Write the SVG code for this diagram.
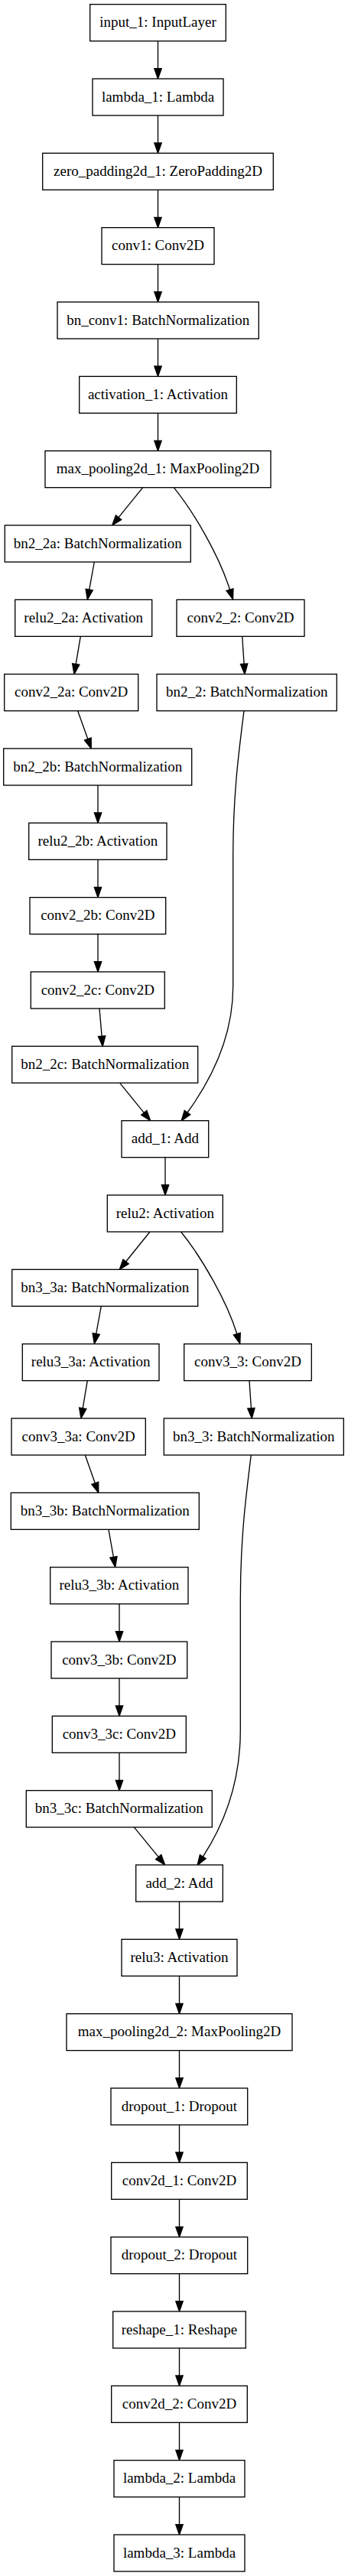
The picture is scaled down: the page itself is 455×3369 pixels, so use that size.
<svg xmlns="http://www.w3.org/2000/svg" width="455" height="3369" viewBox="0 0 455 3369">
<style>
.n rect{fill:#fff;stroke:#000;stroke-width:1.33}
.n text{font-family:"Liberation Serif","Times New Roman",serif;font-size:19px;text-anchor:middle;fill:#000}
.e path{fill:none;stroke:#000;stroke-width:1.33}
</style>
<defs>
<marker id="a" markerUnits="userSpaceOnUse" markerWidth="16" markerHeight="12" refX="1" refY="6" orient="auto" viewBox="0 0 16 12" overflow="visible">
<path d="M1,1.33 L14.33,6 L1,10.67 Z" fill="#000" stroke="#000" stroke-width="1.33"/>
</marker>
</defs>
<rect width="455" height="3369" fill="#fff"/>
<g id="edges" class="e">
<path d="M206.5,53.67 V89.67" marker-end="url(#a)"/>
<path d="M206.5,151 V187" marker-end="url(#a)"/>
<path d="M206.5,248.33 V284.33" marker-end="url(#a)"/>
<path d="M206.5,345.67 V381.67" marker-end="url(#a)"/>
<path d="M206.5,443 V479" marker-end="url(#a)"/>
<path d="M206.5,540.33 V576.33" marker-end="url(#a)"/>
<path d="M186.7,637.67 L155.1,676.7" marker-end="url(#a)"/>
<path d="M227.3,637.67 C255,672 287,728 300.5,771.2" marker-end="url(#a)"/>
<path d="M123.3,735 L116.7,771.2" marker-end="url(#a)"/>
<path d="M105.3,832.33 L99.2,868.6" marker-end="url(#a)"/>
<path d="M316.7,832.33 L319.1,868.4" marker-end="url(#a)"/>
<path d="M101.7,929.67 L114.8,966.5" marker-end="url(#a)"/>
<path d="M128,1027 V1063" marker-end="url(#a)"/>
<path d="M128,1124.33 V1160.33" marker-end="url(#a)"/>
<path d="M128,1221.67 V1257.67" marker-end="url(#a)"/>
<path d="M130,1319 L133.1,1355.1" marker-end="url(#a)"/>
<path d="M156.7,1416.33 L188.3,1455.3" marker-end="url(#a)"/>
<path d="M319,929.67 C312,985 304.7,1040 304.7,1120 L304.7,1290 C304.7,1345 285,1400 245,1455" marker-end="url(#a)"/>
<path d="M216,1513.67 V1549.67" marker-end="url(#a)"/>
<path d="M196,1611 L164.6,1650" marker-end="url(#a)"/>
<path d="M236.6,1611 C264.3,1645.3 296.3,1701.3 309.8,1744.5" marker-end="url(#a)"/>
<path d="M132.3,1708.33 L125.7,1744.5" marker-end="url(#a)"/>
<path d="M114.3,1805.67 L108.2,1841.8" marker-end="url(#a)"/>
<path d="M326,1805.67 L328.4,1841.7" marker-end="url(#a)"/>
<path d="M111.3,1903 L124.3,1939.7" marker-end="url(#a)"/>
<path d="M142,2000.33 L148.4,2036.5" marker-end="url(#a)"/>
<path d="M156,2097.67 V2133.67" marker-end="url(#a)"/>
<path d="M156,2195 V2231" marker-end="url(#a)"/>
<path d="M156,2292.33 V2328.33" marker-end="url(#a)"/>
<path d="M175.3,2389.67 L207.2,2428.6" marker-end="url(#a)"/>
<path d="M328.3,1903 C321.3,1958.3 314.3,2013.3 314.3,2093.3 L314.3,2263 C314.3,2320 300,2375 265.3,2428.3" marker-end="url(#a)"/>
<path d="M234.5,2487 V2523" marker-end="url(#a)"/>
<path d="M234.5,2584.33 V2620.33" marker-end="url(#a)"/>
<path d="M234.5,2681.67 V2717.67" marker-end="url(#a)"/>
<path d="M234.5,2779 V2815" marker-end="url(#a)"/>
<path d="M234.5,2876.33 V2912.33" marker-end="url(#a)"/>
<path d="M234.5,2973.67 V3009.67" marker-end="url(#a)"/>
<path d="M234.5,3071 V3107" marker-end="url(#a)"/>
<path d="M234.5,3168.33 V3204.33" marker-end="url(#a)"/>
<path d="M234.5,3265.67 V3301.67" marker-end="url(#a)"/>
</g>
<g id="input_1" class="n"><rect x="117.7" y="5.67" width="177.6" height="48"/><text x="206.5" y="35.3">input_1: InputLayer</text></g>
<g id="lambda_1" class="n"><rect x="121" y="103" width="171" height="48"/><text x="206.5" y="132.6">lambda_1: Lambda</text></g>
<g id="zero_padding2d_1" class="n"><rect x="55.7" y="200.33" width="301.6" height="48"/><text x="206.5" y="229.9">zero_padding2d_1: ZeroPadding2D</text></g>
<g id="conv1" class="n"><rect x="133" y="297.67" width="147" height="48"/><text x="206.5" y="327.3">conv1: Conv2D</text></g>
<g id="bn_conv1" class="n"><rect x="75" y="395" width="263.3" height="48"/><text x="206.7" y="424.6">bn_conv1: BatchNormalization</text></g>
<g id="activation_1" class="n"><rect x="103.7" y="492.33" width="205.6" height="48"/><text x="206.5" y="521.9">activation_1: Activation</text></g>
<g id="max_pooling2d_1" class="n"><rect x="59" y="589.67" width="295" height="48"/><text x="206.5" y="619.3">max_pooling2d_1: MaxPooling2D</text></g>
<g id="bn2_2a" class="n"><rect x="6.3" y="687" width="243" height="48"/><text x="127.8" y="716.6">bn2_2a: BatchNormalization</text></g>
<g id="relu2_2a" class="n"><rect x="19.7" y="784.33" width="179" height="48"/><text x="109.2" y="813.9">relu2_2a: Activation</text></g>
<g id="conv2_2" class="n"><rect x="231" y="784.33" width="167" height="48"/><text x="314.5" y="813.9">conv2_2: Conv2D</text></g>
<g id="conv2_2a" class="n"><rect x="5.7" y="881.67" width="175" height="48"/><text x="93.2" y="911.3">conv2_2a: Conv2D</text></g>
<g id="bn2_2" class="n"><rect x="205" y="881.67" width="235.3" height="48"/><text x="322.7" y="911.3">bn2_2: BatchNormalization</text></g>
<g id="bn2_2b" class="n"><rect x="4.7" y="979" width="246" height="48"/><text x="127.7" y="1008.6">bn2_2b: BatchNormalization</text></g>
<g id="relu2_2b" class="n"><rect x="37.7" y="1076.33" width="180.3" height="48"/><text x="127.85" y="1105.9">relu2_2b: Activation</text></g>
<g id="conv2_2b" class="n"><rect x="39" y="1173.67" width="177.7" height="48"/><text x="127.85" y="1203.3">conv2_2b: Conv2D</text></g>
<g id="conv2_2c" class="n"><rect x="40.3" y="1271" width="175" height="48"/><text x="127.8" y="1300.6">conv2_2c: Conv2D</text></g>
<g id="bn2_2c" class="n"><rect x="15.7" y="1368.33" width="243" height="48"/><text x="137.2" y="1397.9">bn2_2c: BatchNormalization</text></g>
<g id="add_1" class="n"><rect x="159" y="1465.67" width="113.7" height="48"/><text x="215.85" y="1495.3">add_1: Add</text></g>
<g id="relu2" class="n"><rect x="140.3" y="1563" width="151" height="48"/><text x="215.8" y="1592.6">relu2: Activation</text></g>
<g id="bn3_3a" class="n"><rect x="15.7" y="1660.33" width="243" height="48"/><text x="137.2" y="1689.9">bn3_3a: BatchNormalization</text></g>
<g id="relu3_3a" class="n"><rect x="29.3" y="1757.67" width="178.7" height="48"/><text x="118.65" y="1787.3">relu3_3a: Activation</text></g>
<g id="conv3_3" class="n"><rect x="240.7" y="1757.67" width="166.6" height="48"/><text x="324" y="1787.3">conv3_3: Conv2D</text></g>
<g id="conv3_3a" class="n"><rect x="15" y="1855" width="175.3" height="48"/><text x="102.65" y="1884.6">conv3_3a: Conv2D</text></g>
<g id="bn3_3" class="n"><rect x="214.3" y="1855" width="235" height="48"/><text x="331.8" y="1884.6">bn3_3: BatchNormalization</text></g>
<g id="bn3_3b" class="n"><rect x="14.3" y="1952.33" width="246" height="48"/><text x="137.3" y="1981.9">bn3_3b: BatchNormalization</text></g>
<g id="relu3_3b" class="n"><rect x="65.7" y="2049.67" width="180.3" height="48"/><text x="155.85" y="2079.3">relu3_3b: Activation</text></g>
<g id="conv3_3b" class="n"><rect x="67" y="2147" width="177.7" height="48"/><text x="155.85" y="2176.6">conv3_3b: Conv2D</text></g>
<g id="conv3_3c" class="n"><rect x="68.3" y="2244.33" width="175" height="48"/><text x="155.8" y="2273.9">conv3_3c: Conv2D</text></g>
<g id="bn3_3c" class="n"><rect x="34.3" y="2341.67" width="243" height="48"/><text x="155.8" y="2371.3">bn3_3c: BatchNormalization</text></g>
<g id="add_2" class="n"><rect x="177.7" y="2439" width="113.6" height="48"/><text x="234.5" y="2468.6">add_2: Add</text></g>
<g id="relu3" class="n"><rect x="159" y="2536.33" width="151" height="48"/><text x="234.5" y="2565.9">relu3: Activation</text></g>
<g id="max_pooling2d_2" class="n"><rect x="87" y="2633.67" width="295" height="48"/><text x="234.5" y="2663.3">max_pooling2d_2: MaxPooling2D</text></g>
<g id="dropout_1" class="n"><rect x="145" y="2731" width="178.7" height="48"/><text x="234.4" y="2760.6">dropout_1: Dropout</text></g>
<g id="conv2d_1" class="n"><rect x="145.7" y="2828.33" width="177.6" height="48"/><text x="234.5" y="2857.9">conv2d_1: Conv2D</text></g>
<g id="dropout_2" class="n"><rect x="145" y="2925.67" width="178.7" height="48"/><text x="234.4" y="2955.3">dropout_2: Dropout</text></g>
<g id="reshape_1" class="n"><rect x="147.7" y="3023" width="173.6" height="48"/><text x="234.5" y="3052.6">reshape_1: Reshape</text></g>
<g id="conv2d_2" class="n"><rect x="145.7" y="3120.33" width="177.6" height="48"/><text x="234.5" y="3149.9">conv2d_2: Conv2D</text></g>
<g id="lambda_2" class="n"><rect x="149" y="3217.67" width="171" height="48"/><text x="234.5" y="3247.3">lambda_2: Lambda</text></g>
<g id="lambda_3" class="n"><rect x="149" y="3315" width="171" height="48"/><text x="234.5" y="3344.6">lambda_3: Lambda</text></g>
</svg>
